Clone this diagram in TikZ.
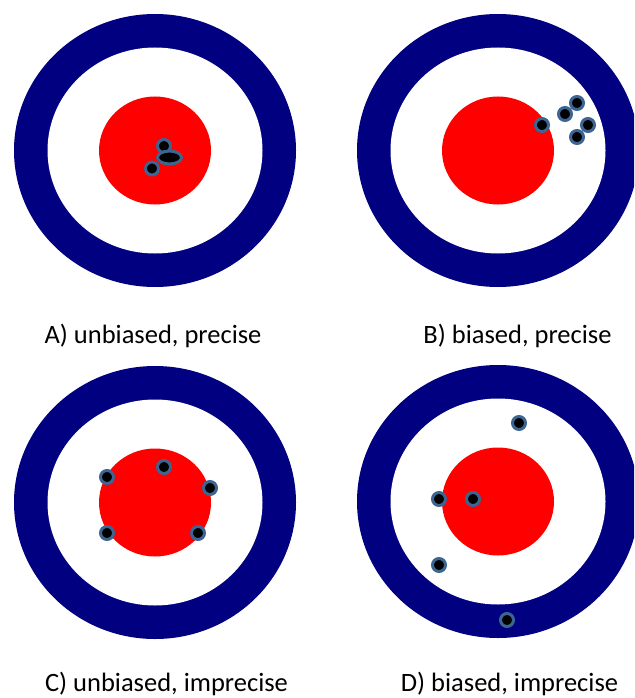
\documentclass[tikz,border=0pt]{standalone}
\usepackage{fontspec}
\setmainfont{Carlito}
\usepackage{tikz}
\usetikzlibrary{shapes.geometric}
\usepackage{xcolor}
\definecolor{navy}{HTML}{000080}
\definecolor{bull}{HTML}{FF0000}
\definecolor{rim}{HTML}{3D6592}
\tikzset{
  shot/.style={circle,fill=black,draw=rim,line width=3pt,inner sep=0pt,
    minimum size=13pt},
  blob/.style={ellipse,fill=black,draw=rim,line width=3pt,inner sep=0pt,
    minimum width=24pt,minimum height=13pt},
  caption/.style={anchor=base,inner sep=0pt,font=\fontsize{26.5}{30}\selectfont}
}
\newcommand{\target}[2]{%
  \fill[navy] (#1,#2) ellipse [x radius=141,y radius=136.5];
  \fill[white] (#1,#2) ellipse [x radius=107.5,y radius=103];
  \fill[bull] (#1,#2) ellipse [x radius=56,y radius=54];
}
\begin{document}
\begin{tikzpicture}[x=1pt,y=-1pt]
      \useasboundingbox (0,0) rectangle (634,698);
      \clip (0,0) rectangle (634,698);
      % four targets
      \target{155}{150.5}
      \target{498}{150.5}
      \target{155}{502.5}
      \target{498}{501.5}
      % A) unbiased, precise
      \node[shot] (a1) at (164,146) {};
      \node[shot] (a2) at (152,168.5) {};
      \node[blob] (a3) at (169.5,157.5) {};
      % B) biased, precise
      \node[shot] (b1) at (542,125) {};
      \node[shot] (b2) at (565,114) {};
      \node[shot] (b3) at (577,103) {};
      \node[shot] (b4) at (588,125) {};
      \node[shot] (b5) at (577,137) {};
      % C) unbiased, imprecise
      \foreach \n/\x/\y in {1/107/477,2/164/467,3/210/488,4/107/533,5/198/533}
        \node[shot] (c\n) at (\x,\y) {};
      % D) biased, imprecise
      \foreach \n/\x/\y in {1/519/423,2/439/499,3/473/499,4/439/565,5/507/620}
        \node[shot] (d\n) at (\x,\y) {};
      % captions
      \node[caption] (capA) at (153,343) {A) unbiased, precise};
      \node[caption] (capB) at (517.5,343) {B) biased, precise};
      \node[caption] (capC) at (166.5,691.5) {C) unbiased, imprecise};
      \node[caption] (capD) at (509.5,691.5) {D) biased, imprecise};
    \end{tikzpicture}
\end{document}
